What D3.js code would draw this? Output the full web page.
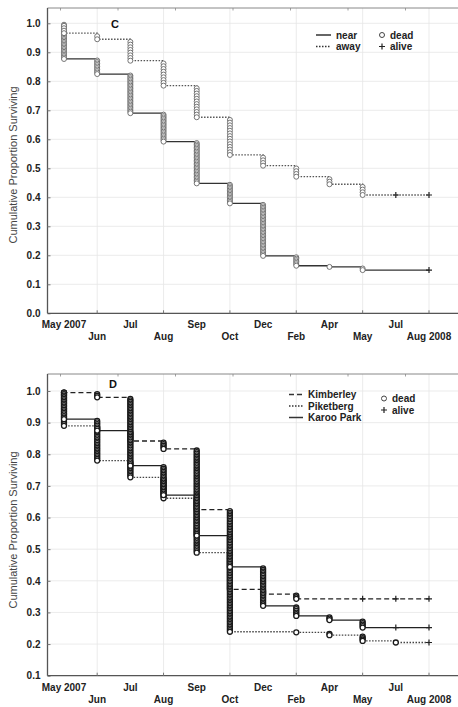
<!DOCTYPE html>
<html><head><meta charset="utf-8">
<script src="https://cdn.jsdelivr.net/npm/d3@7"></script>
<style>
html,body{margin:0;padding:0;background:#fff;}
svg{display:block;font-family:"Liberation Sans",Arial,sans-serif;}
</style></head>
<body>
<svg id="chart" width="458" height="707"></svg>
<script>
// ---- data ----
const tickLabels = ["May 2007","Jun","Jul","Aug","Sep","Oct","Dec","Feb","Apr","May","Jul","Aug 2008"];
const gridIdx = [1,3,5,7,9,11];

// Panel C
const nearIdx    = [0,1,2,3,4,5,6,7,8,9];
const nearSurv   = [0.877,0.825,0.690,0.592,0.448,0.379,0.198,0.164,0.160,0.149];
const nearDeaths = [25,10,27,20,29,14,36,7,1,2];
const nearAlive  = [11];

const awayIdx    = [0,1,2,3,4,5,6,7,8,9];
const awaySurv   = [0.966,0.945,0.871,0.785,0.676,0.546,0.509,0.471,0.445,0.408];
const awayDeaths = [4,2,8,9,12,14,4,4,3,4];
const awayAlive  = [10,11];

// Panel D
const kimIdx    = [0,1,2,3,4,5,6,7];
const kimSurv   = [0.995,0.980,0.842,0.817,0.625,0.373,0.358,0.343];
const kimDeaths = [1,3,28,5,38,50,3,3];
const kimAlive  = [9,10,11];

const pikIdx    = [0,1,2,3,4,5,7,8,9,10];
const pikSurv   = [0.890,0.780,0.727,0.661,0.489,0.239,0.237,0.228,0.210,0.205];
const pikDeaths = [22,22,11,13,34,50,1,2,4,1];
const pikAlive  = [11];

const karIdx    = [0,1,2,3,4,5,6,7,8,9];
const karSurv   = [0.911,0.875,0.764,0.671,0.543,0.444,0.321,0.289,0.276,0.252];
const karDeaths = [18,7,22,19,26,20,25,6,3,5];
const karAlive  = [10,11];

const yTicksC = [0,0.1,0.2,0.3,0.4,0.5,0.6,0.7,0.8,0.9,1.0];
const yTicksD = [0.1,0.2,0.3,0.4,0.5,0.6,0.7,0.8,0.9,1.0];

// ---- drawing ----
const svg = d3.select("#chart");
const x = d3.scalePoint().domain(d3.range(tickLabels.length)).range([64,429]);

function panel(opt){
  const g = svg.append("g");
  const y = d3.scaleLinear().domain(opt.ydom).range(opt.yrange);
  const left = 47.5, right = 458;
  const top = opt.frameTop, bottom = y(opt.ydom[0]);
  // grid
  g.selectAll(".hg").data(opt.yticks).enter().append("line")
    .attr("x1",left).attr("x2",right).attr("y1",d=>y(d)).attr("y2",d=>y(d))
    .attr("stroke","#e6e6e6").attr("stroke-width",0.8);
  g.selectAll(".vg").data(gridIdx).enter().append("line")
    .attr("x1",d=>x(d)).attr("x2",d=>x(d)).attr("y1",top).attr("y2",bottom)
    .attr("stroke","#e6e6e6").attr("stroke-width",0.8);
  // frame
  g.append("line").attr("x1",left).attr("x2",right).attr("y1",top).attr("y2",top).attr("stroke","#888").attr("stroke-width",1);
  d3.range(60.5,410,57.5).forEach(t=>{
    g.append("line").attr("x1",t).attr("x2",t).attr("y1",top).attr("y2",top+2.5).attr("stroke","#888").attr("stroke-width",0.8);
  });
  // y axis
  const ya = d3.axisLeft(y).tickValues(opt.yticks).tickFormat(d3.format(".1f")).tickSize(-3).tickPadding(7);
  const yg = g.append("g").attr("transform",`translate(${left},0)`).call(ya);
  yg.select(".domain").attr("d",`M0,${top}V${bottom}`).attr("stroke","#555").attr("stroke-width",1.3);
  yg.selectAll(".tick line").attr("stroke","#777");
  yg.selectAll("text").attr("font-size",10).attr("font-weight","bold").attr("fill","#222")
    .attr("font-family","'Liberation Sans',Arial,sans-serif");
  // x axis
  g.append("line").attr("x1",left).attr("x2",right).attr("y1",bottom).attr("y2",bottom).attr("stroke","#555").attr("stroke-width",1.3);
  g.selectAll(".xt").data(gridIdx).enter().append("line")
    .attr("x1",d=>x(d)).attr("x2",d=>x(d)).attr("y1",bottom).attr("y2",bottom-3).attr("stroke","#777");
  g.selectAll(".xl").data(tickLabels).enter().append("text")
    .attr("x",(d,i)=>x(i)).attr("y",(d,i)=> bottom + (i%2===0 ? 15 : 27))
    .attr("text-anchor","middle").attr("font-size",10).attr("font-weight","bold").attr("fill","#222")
    .text(d=>d);
  // y label
  g.append("text").attr("transform",`translate(17,${opt.ylabY}) rotate(-90)`)
    .attr("text-anchor","middle").attr("font-size",11).attr("fill","#444")
    .text("Cumulative Proportion Surviving");
  // panel letter
  g.append("text").attr("x",opt.letterX).attr("y",opt.letterY).attr("font-size",11).attr("font-weight","bold")
    .attr("fill","#111").attr("text-anchor","middle").text(opt.letter);

  // series
  opt.series.forEach(s=>{
    let pts = [[x(0),y(1)]];
    let prev = 1;
    s.idx.forEach((ti,k)=>{
      pts.push([x(ti),y(prev)]);
      pts.push([x(ti),y(s.surv[k])]);
      prev = s.surv[k];
    });
    const lastX = d3.max(s.alive.map(a=>x(a)).concat([x(s.idx[s.idx.length-1])]));
    pts.push([lastX,y(prev)]);
    g.append("path").attr("d",d3.line()(pts)).attr("fill","none")
      .attr("stroke",s.color).attr("stroke-width",s.width).attr("stroke-dasharray",s.dash);
  });
  opt.series.forEach(s=>{
    let prev = 1;
    s.idx.forEach((ti,k)=>{
      const n = s.deaths[k], cur = s.surv[k];
      const vals = d3.range(1,n+1).map(j=> prev - j*(prev-cur)/n);
      g.selectAll(null).data(vals).enter().append("circle")
        .attr("cx",x(ti)).attr("cy",d=>y(d)).attr("r",2.5)
        .attr("fill","#fff").attr("stroke",opt.markColor).attr("stroke-width",opt.markWidth);
      prev = cur;
    });
    s.alive.forEach(a=>{
      const cx = x(a), cy = y(s.surv[s.surv.length-1]);
      g.append("path").attr("d",`M${cx-3},${cy}H${cx+3}M${cx},${cy-3}V${cy+3}`)
        .attr("stroke","#222").attr("stroke-width",1.2);
    });
  });

  // legend
  const L = opt.legend;
  L.items.forEach((it,i)=>{
    const ly = L.y + i*L.dy;
    g.append("line").attr("x1",L.x).attr("x2",L.x+L.len).attr("y1",ly).attr("y2",ly)
      .attr("stroke","#333").attr("stroke-width",it.width).attr("stroke-dasharray",it.dash);
    g.append("text").attr("x",L.x+L.len+5).attr("y",ly+3.5).attr("font-size",10).attr("font-weight","bold")
      .attr("fill","#222").text(it.name);
  });
  g.append("circle").attr("cx",L.mx).attr("cy",L.my).attr("r",2.5).attr("fill","#fff").attr("stroke","#444").attr("stroke-width",1);
  g.append("text").attr("x",L.mx+8).attr("y",L.my+3.5).attr("font-size",10).attr("font-weight","bold").attr("fill","#222").text("dead");
  const ay = L.my + L.mdy;
  g.append("path").attr("d",`M${L.mx-3},${ay}H${L.mx+3}M${L.mx},${ay-3}V${ay+3}`).attr("stroke","#222").attr("stroke-width",1.2);
  g.append("text").attr("x",L.mx+8).attr("y",ay+3.5).attr("font-size",10).attr("font-weight","bold").attr("fill","#222").text("alive");
}

panel({
  ydom:[0,1.0], yrange:[313.3,23.3], frameTop:8, yticks:yTicksC, ylabY:165,
  letter:"C", letterX:115, letterY:28, markColor:"#666", markWidth:0.9,
  series:[
    {idx:nearIdx, surv:nearSurv, deaths:nearDeaths, alive:nearAlive, color:"#333", width:1.3, dash:null},
    {idx:awayIdx, surv:awaySurv, deaths:awayDeaths, alive:awayAlive, color:"#555", width:1.3, dash:"1.5,1.5"}
  ],
  legend:{x:316, y:35, dy:11.5, len:15, mx:382, my:35, mdy:11.5,
    items:[{name:"near",dash:null,width:1.5},{name:"away",dash:"1.5,1.5",width:1.3}]}
});

panel({
  ydom:[0.1,1.0], yrange:[675.7,391], frameTop:374, yticks:yTicksD, ylabY:530,
  letter:"D", letterX:113, letterY:388, markColor:"#1a1a1a", markWidth:1.3,
  series:[
    {idx:kimIdx, surv:kimSurv, deaths:kimDeaths, alive:kimAlive, color:"#222", width:1.3, dash:"5,3"},
    {idx:pikIdx, surv:pikSurv, deaths:pikDeaths, alive:pikAlive, color:"#444", width:1.3, dash:"1.5,1.5"},
    {idx:karIdx, surv:karSurv, deaths:karDeaths, alive:karAlive, color:"#222", width:1.3, dash:null}
  ],
  legend:{x:289, y:394.5, dy:11.5, len:14, mx:384, my:398.5, mdy:11.5,
    items:[{name:"Kimberley",dash:"5,3",width:1.3},{name:"Piketberg",dash:"1.5,1.5",width:1.3},{name:"Karoo Park",dash:null,width:1.5}]}
});
</script>
</body></html>
